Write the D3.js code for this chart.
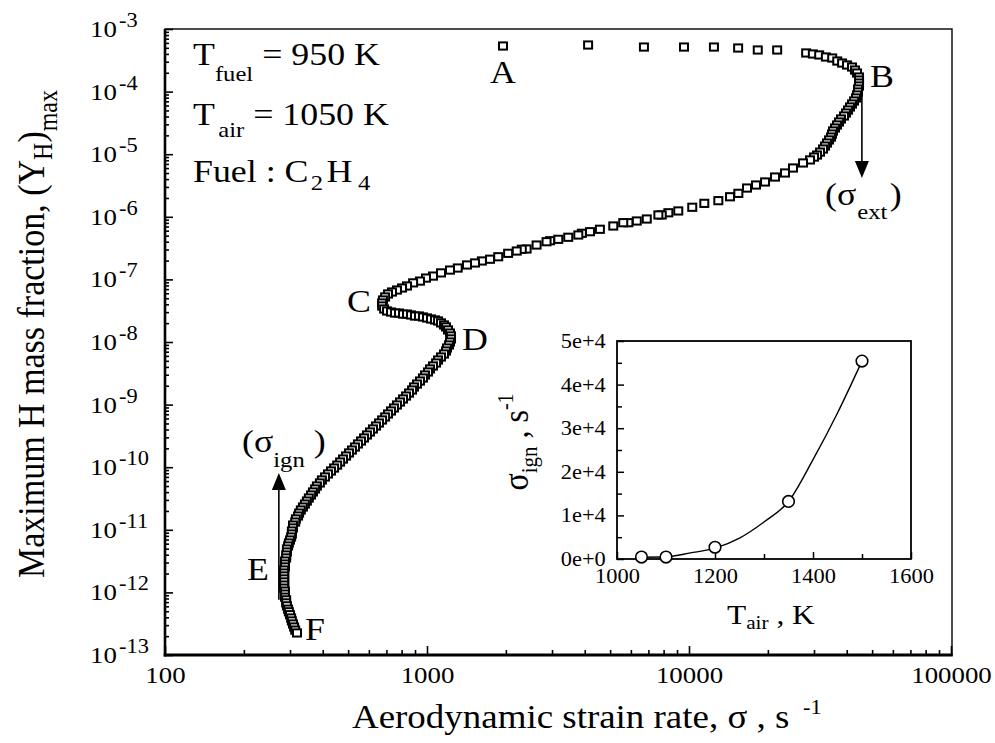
<!DOCTYPE html>
<html>
<head>
<meta charset="utf-8">
<script src="https://cdn.jsdelivr.net/npm/d3@7"></script>
<style>
  body { margin: 0; background: #fff; }
  svg text { font-family: "Liberation Serif", "Times New Roman", serif; fill: #000; white-space: pre; }
</style>
</head>
<body>
<div id="chart"></div>
<script>
// ---- data: [strain rate (1/s), (Y_H)max] ----
// A -> B : upper (burning) branch
const branchAB = [
  [1950,5.35e-4],[4120,5.55e-4],[6730,5.15e-4],[9570,5.15e-4],[12450,5.15e-4],[15400,4.97e-4],
  [18300,4.62e-4],[21700,4.62e-4],[28000,4.14e-4],[29700,3.99e-4],[31400,3.85e-4],[33300,3.57e-4],
  [35200,3.44e-4],[36800,3.08e-4],[38400,2.86e-4],[40100,2.66e-4],[41900,2.47e-4],[43000,2.21e-4],
  [43800,1.98e-4],[44560,1.71e-4],[44560,1.53e-4],[44560,1.37e-4],[44560,1.23e-4]
];
// B -> C : middle branch
const branchBC = [
  [44170,1.10e-4],[44170,9.86e-5],[43790,8.83e-5],[43400,7.91e-5],[42650,7.08e-5],[41900,6.34e-5],
  [41170,5.68e-5],[40460,5.08e-5],[39750,4.55e-5],[39060,4.08e-5],[38040,3.65e-5],[37380,3.27e-5],
  [36730,2.93e-5],[36090,2.62e-5],[35460,2.35e-5],[35150,2.10e-5],[34840,1.88e-5],[34240,1.69e-5],
  [33640,1.51e-5],[33060,1.35e-5],[32480,1.21e-5],[31630,1.08e-5],[30810,9.7e-6],[30010,9.0e-6],
  [28970,8.1e-6],[27240,7.24e-6],[24940,6.02e-6],[23250,5.01e-6],[21300,4.32e-6],[19510,3.60e-6],
  [18020,3.22e-6],[16650,2.88e-6],[15430,2.37e-6],[14340,2.09e-6],[12940,1.81e-6],[11440,1.64e-6],
  [10290,1.42e-6],[9100,1.24e-6],[8340,1.16e-6],[7870,1.07e-6],[7640,1.07e-6],[6900,9.22e-7],
  [6320,8.57e-7],[5870,8.05e-7],[5610,8.05e-7],[5140,7.13e-7],[4570,6.32e-7],[4190,5.78e-7],
  [3900,5.45e-7],[3780,5.12e-7],[3460,4.71e-7],[3170,4.37e-7],[2950,4.15e-7],[2860,4.0e-7],
  [2620,3.54e-7],[2400,3.06e-7],[2300,3.03e-7],[2200,2.84e-7],[2040,2.61e-7],[1870,2.30e-7],
  [1740,2.10e-7],[1620,1.97e-7],[1525,1.83e-7],[1421,1.70e-7],[1310,1.52e-7],[1224,1.41e-7],
  [1131,1.27e-7],[1054,1.13e-7],[991,1.05e-7],[940,9.4e-8],[885,8.8e-8],[839,7.85e-8],
  [803,7.29e-8],[768,6.77e-8],[735,6.29e-8],[710,5.85e-8],[692,5.24e-8],[679,4.69e-8]
];
// C -> D
const branchCD = [
  [674,4.2e-8],[674,3.76e-8],[686,3.37e-8],[704,3.13e-8],[729,3.01e-8],[755,2.9e-8],[782,2.9e-8],
  [810,2.79e-8],[839,2.79e-8],[869,2.7e-8],[900,2.6e-8],[932,2.6e-8],[965,2.51e-8],[1000,2.42e-8],
  [1036,2.33e-8],[1073,2.25e-8],[1102,2.17e-8],[1131,2.02e-8],[1161,1.87e-8],[1182,1.74e-8],
  [1203,1.56e-8],[1224,1.39e-8],[1235,1.25e-8]
];
// D -> E -> F : lower (weakly reacting) branch
const branchDF = [
  [1235,1.12e-8],[1224,1.0e-8],[1213,8.96e-9],[1192,8.02e-9],[1182,7.18e-9],[1161,6.43e-9],
  [1131,5.76e-9],[1102,5.16e-9],[1083,4.62e-9],[1054,4.14e-9],[1027,3.71e-9],[1009,3.32e-9],
  [983,2.97e-9],[965,2.66e-9],[940,2.38e-9],[916,2.13e-9],[892,1.91e-9],[877,1.71e-9],
  [854,1.53e-9],[832,1.37e-9],[810,1.23e-9],[789,1.1e-9],[768,9.86e-10],[748,8.83e-10],
  [729,7.91e-10],[710,7.08e-10],[692,6.34e-10],[674,5.68e-10],[656,5.08e-10],[639,4.55e-10],
  [622,4.08e-10],[606,3.65e-10],[590,3.27e-10],[575,2.93e-10],[560,2.62e-10],[545,2.35e-10],
  [531,2.1e-10],[517,1.88e-10],[504,1.69e-10],[491,1.51e-10],[478,1.35e-10],[466,1.21e-10],
  [454,1.08e-10],[442,9.7e-11],[430,8.7e-11],[419,7.8e-11],[408,6.98e-11],[397,6.25e-11],
  [390,5.6e-11],[380,5.01e-11],[374,4.49e-11],[367,4.02e-11],[361,3.6e-11],[354,3.22e-11],
  [348,2.88e-11],[342,2.58e-11],[336,2.31e-11],[330,2.07e-11],[325,1.85e-11],[322,1.66e-11],
  [316,1.49e-11],[314,1.33e-11],[308,1.19e-11],[308,1.07e-11],[305,9.57e-12],[305,8.57e-12],
  [303,7.67e-12],[300,6.87e-12],[297,6.15e-12],[295,5.51e-12],[292,4.93e-12],[292,4.42e-12],
  [290,3.96e-12],[290,3.55e-12],[287,3.17e-12],[287,2.84e-12],[287,2.55e-12],[285,2.28e-12],
  [285,2.04e-12],[285,1.83e-12],[285,1.64e-12],[285,1.47e-12],[285,1.31e-12],[285,1.17e-12],
  [287,1.05e-12],[287,9.4e-13],[287,8.4e-13],[290,7.6e-13],[290,6.8e-13],[292,6.1e-13],
  [295,5.4e-13],[297,4.9e-13],[300,4.4e-13],[303,3.9e-13],[305,3.5e-13],[308,3.13e-13],
  [311,2.8e-13],[314,2.5e-13],[319,2.25e-13]
];
const xMajor = [100, 1000, 10000, 100000];
const yMajor = [1e-13, 1e-12, 1e-11, 1e-10, 1e-9, 1e-8, 1e-7, 1e-6, 1e-5, 1e-4, 1e-3];

// inset: ignition strain rate vs air temperature
const airTemp = [1050, 1100, 1200, 1350, 1500];
const sigmaIgn = [450, 450, 2700, 13200, 45400];
const fitTemp = [1050, 1100, 1150, 1200, 1250, 1300, 1350, 1400, 1450, 1500];
const fitSigma = [400, 500, 1400, 2500, 4800, 8500, 13200, 22800, 33500, 45400];
const insetXTicks = [1000, 1200, 1400, 1600];
const insetYTicks = [0, 10000, 20000, 30000, 40000, 50000];

// ---- layout ----
const W = 995, H = 743;
const SX = 1.12;   // the original figure is slightly stretched horizontally
const frame = { left: 165, right: 952, top: 29, bottom: 655 };
const inset = { left: 617, right: 911, top: 341, bottom: 559 };

const svg = d3.select("#chart").append("svg")
  .attr("width", W)
  .attr("height", H);

// text with sub/superscript parts: [text, baseline offset, font size, dx]
function richText(parent, px, py, parts, o = {}) {
  const t = parent.append("text")
    .attr("transform", `translate(${px},${py}) scale(${SX},1)` + (o.rotate ? " rotate(-90)" : ""))
    .attr("text-anchor", o.anchor || "start")
    .style("font-size", (o.size || 32) + "px");
  let prev = 0;
  parts.forEach(p => {
    const [txt, off = 0, size, dx] = p;
    const s = t.append("tspan").text(txt).attr("dy", off - prev);
    if (size) s.style("font-size", size + "px");
    if (dx) s.attr("dx", dx);
    prev = off;
  });
  return t;
}

// ---- main chart ----
const x = d3.scaleLog().domain([100, 1e5]).range([frame.left, 951]);
const y = d3.scaleLog().domain([1e-13, 1e-3]).range([frame.bottom, frame.top]);

const isMajor = v => Math.abs(Math.log10(v) - Math.round(Math.log10(v))) < 1e-6;
const xMinor = x.ticks().filter(v => !isMajor(v));
const yMinor = y.ticks(20).filter(v => !isMajor(v));

// ticks (inward)
const gx = svg.append("g").attr("transform", `translate(0,${frame.bottom})`);
gx.append("g").call(d3.axisBottom(x).tickValues(xMinor).tickSize(-5).tickFormat(""));
gx.append("g").call(d3.axisBottom(x).tickValues(xMajor).tickSize(-9).tickPadding(11).tickFormat(d3.format("d")));
gx.selectAll(".domain").remove();
gx.selectAll("line").attr("stroke-width", 1.6);
gx.selectAll("text").style("font-size", "24px").attr("transform", `scale(${SX},1)`);

const gy = svg.append("g").attr("transform", `translate(${frame.left},0)`);
gy.append("g").call(d3.axisLeft(y).tickValues(yMinor).tickSize(-4).tickFormat(""));
gy.append("g").call(d3.axisLeft(y).tickValues(yMajor).tickSize(-8).tickFormat(""));
gy.selectAll(".domain").remove();
gy.selectAll("line").attr("stroke-width", 1.6);

yMajor.forEach(v => {
  const e = Math.round(Math.log10(v));
  richText(svg, 90, y(v) + 8, [["10"], [String(e), -10, 20, 2]], { size: 24 });
});

// frame
svg.append("rect")
  .attr("x", frame.left).attr("y", frame.top)
  .attr("width", frame.right - frame.left).attr("height", frame.bottom - frame.top)
  .attr("fill", "none").attr("stroke", "#000").attr("stroke-width", 1.4);
svg.append("line").attr("x1", frame.left).attr("x2", frame.left)
  .attr("y1", frame.top).attr("y2", frame.bottom + 1.5)
  .attr("stroke", "#000").attr("stroke-width", 2.6);
svg.append("line").attr("x1", frame.left - 1.3).attr("x2", frame.right + 0.7)
  .attr("y1", frame.bottom).attr("y2", frame.bottom)
  .attr("stroke", "#000").attr("stroke-width", 3);

// arrows for extinction / ignition
const arrows = svg.append("g");
const ax1 = x(45700), tip1 = y(4.17e-6);
arrows.append("line").attr("x1", ax1).attr("x2", ax1)
  .attr("y1", y(1.06e-4)).attr("y2", tip1 - 15)
  .attr("stroke", "#000").attr("stroke-width", 1.6);
arrows.append("path")
  .attr("d", `M${ax1 - 7},${tip1 - 17}L${ax1 + 7},${tip1 - 17}L${ax1},${tip1}Z`);
const ax2 = x(272), tip2 = y(8.08e-11);
arrows.append("line").attr("x1", ax2).attr("x2", ax2)
  .attr("y1", y(7.6e-13)).attr("y2", tip2 + 15)
  .attr("stroke", "#000").attr("stroke-width", 1.6);
arrows.append("path")
  .attr("d", `M${ax2 - 7},${tip2 + 17}L${ax2 + 7},${tip2 + 17}L${ax2},${tip2}Z`);

// square markers
const pts = [...branchAB, ...branchBC, ...branchCD, ...branchDF];
svg.append("g").selectAll("rect")
  .data(pts)
  .join("rect")
    .attr("x", d => x(d[0]) - 4)
    .attr("y", d => y(d[1]) - 3.6)
    .attr("width", 8)
    .attr("height", 7.2)
    .attr("fill", "#fff")
    .attr("stroke", "#000")
    .attr("stroke-width", 2);

// annotations
richText(svg, 193, 65, [["T"], ["fuel", 16, 22], [" = 950 K", 0]]);
richText(svg, 193, 125, [["T"], ["air", 12, 22, 3], [" = 1050 K", 0]]);
richText(svg, 193, 182, [["Fuel : C"], ["2", 8, 22, 2], ["H", 0, null, 3], ["4", 8, 22, 5]]);
[["A", 490, 83], ["B", 870, 87], ["C", 347, 312], ["D", 462, 350], ["E", 247, 580], ["F", 305, 640]]
  .forEach(([s, px, py]) => richText(svg, px, py, [[s]]));
richText(svg, 825, 205, [["(σ"], ["ext", 14, 22, 1], [")", 0, null, 2]]);
richText(svg, 242, 452, [["(σ"], ["ign", 15, 22], [" )", 0]]);

// axis titles
richText(svg, 352, 728, [["Aerodynamic strain rate, σ , s "], ["-1", -14, 20, 4]], { size: 33 });
richText(svg, 44, 334, [["Maximum H mass fraction, (Y"], ["H", 7, 24], [")", 0], ["max", 12, 24]],
  { size: 34, rotate: true, anchor: "middle" });

// ---- inset ----
const xi = d3.scaleLinear().domain([1000, 1600]).range([inset.left, inset.right]);
const yi = d3.scaleLinear().domain([0, 50000]).range([inset.bottom, inset.top]);
const gi = svg.append("g");

gi.append("rect")
  .attr("x", inset.left).attr("y", inset.top)
  .attr("width", inset.right - inset.left).attr("height", inset.bottom - inset.top)
  .attr("fill", "#fff");

const gix = gi.append("g").attr("transform", `translate(0,${inset.bottom})`);
gix.append("g").call(d3.axisBottom(xi).tickValues([1100, 1300, 1500]).tickSize(-5).tickFormat(""));
gix.append("g").call(d3.axisBottom(xi).tickValues(insetXTicks).tickSize(-7).tickPadding(10).tickFormat(d3.format("d")));
const giy = gi.append("g").attr("transform", `translate(${inset.left},0)`);
giy.append("g").call(d3.axisLeft(yi).tickValues([5000, 15000, 25000, 35000, 45000]).tickSize(-5).tickFormat(""));
giy.append("g").call(d3.axisLeft(yi).tickValues(insetYTicks).tickSize(-7).tickPadding(10)
  .tickFormat(d => d === 0 ? "0e+0" : (d / 10000) + "e+4"));
gi.selectAll(".domain").remove();
gi.selectAll("line").attr("stroke-width", 1.5);
gi.selectAll("text").style("font-size", "20px").attr("transform", `scale(${SX},1)`);

gi.append("rect")
  .attr("x", inset.left).attr("y", inset.top)
  .attr("width", inset.right - inset.left).attr("height", inset.bottom - inset.top)
  .attr("fill", "none").attr("stroke", "#000").attr("stroke-width", 1.8);

gi.append("path")
  .datum(fitTemp.map((t, i) => [t, fitSigma[i]]))
  .attr("fill", "none").attr("stroke", "#000").attr("stroke-width", 1.4)
  .attr("d", d3.line().x(d => xi(d[0])).y(d => yi(d[1])).curve(d3.curveMonotoneX));

gi.selectAll("circle")
  .data(airTemp.map((t, i) => [t, sigmaIgn[i]]))
  .join("circle")
    .attr("cx", d => xi(d[0]))
    .attr("cy", d => yi(d[1]))
    .attr("r", 5.8)
    .attr("fill", "#fff")
    .attr("stroke", "#000")
    .attr("stroke-width", 1.6);

richText(svg, 727, 624, [["T"], ["air", 5, 19], [" , K", 0]], { size: 28 });
richText(svg, 528, 442, [["σ"], ["ign", 8, 21], [" , s", 0], ["-1", -13, 20]],
  { size: 32, rotate: true, anchor: "middle" });
</script>
</body>
</html>
